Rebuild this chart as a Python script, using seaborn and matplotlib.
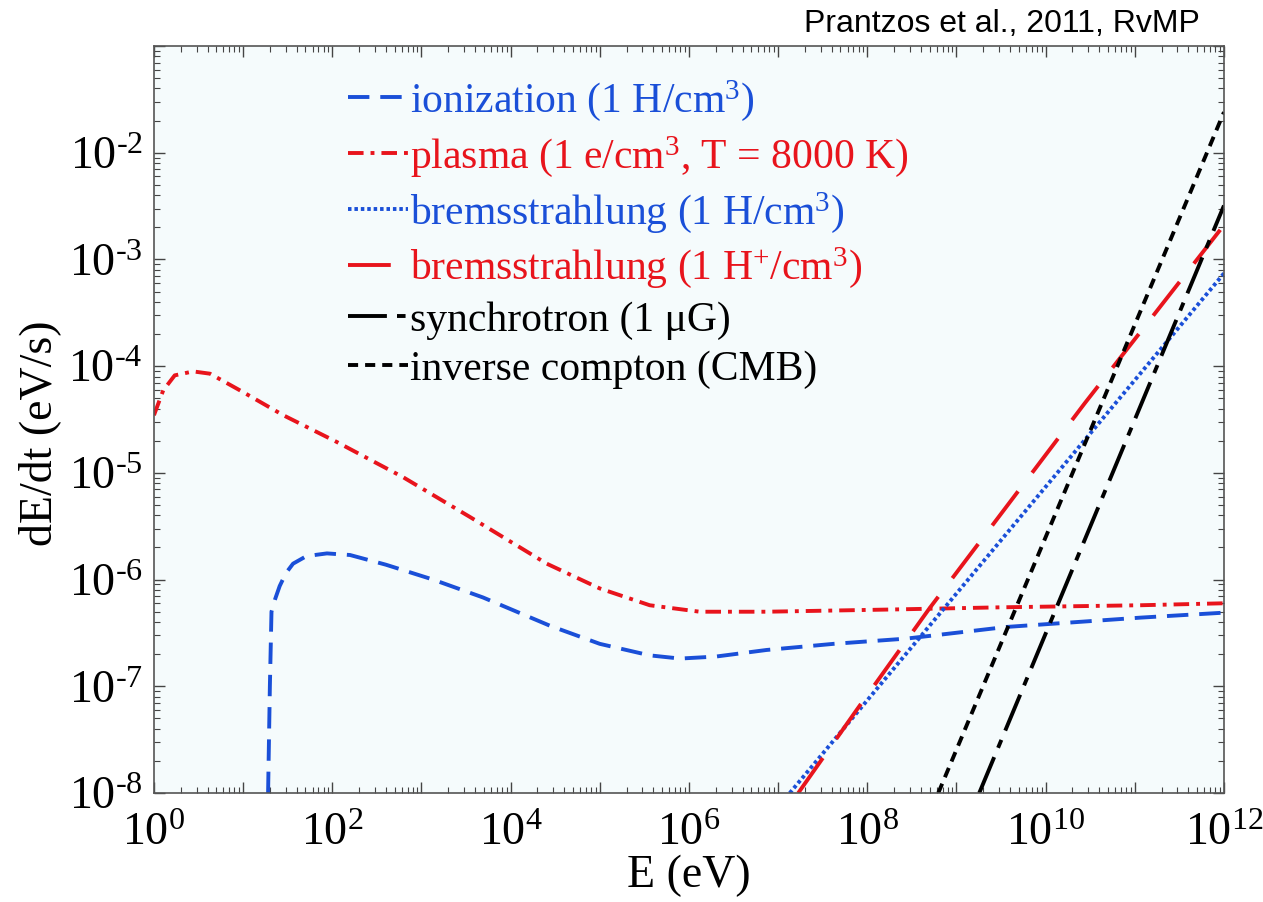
import matplotlib
matplotlib.use("Agg")
import math
import matplotlib.pyplot as plt
import matplotlib.ticker as mticker
import pandas as pd
import seaborn as sns

# Energy-loss rates dE/dt (eV/s) of cosmic-ray electrons as a function of energy E (eV)
ion_E = [19.05, 19.95, 20.8, 22.9, 25.7, 30.2, 36.3, 51.3, 87.1, 158, 398, 1.35e3, 4.9e3,
         2.75e4, 1e5, 3.63e5, 7.94e5, 2.0e6, 7.4e6, 4.17e7, 2.75e8, 3.63e9, 1.15e11, 1e12]
ion_rate = [1e-8, 1e-7, 5.0e-7, 6.6e-7, 8.7e-7, 1.15e-6, 1.41e-6, 1.66e-6, 1.76e-6, 1.70e-6,
            1.38e-6, 1.0e-6, 6.8e-7, 3.7e-7, 2.5e-7, 1.95e-7, 1.82e-7, 1.9e-7, 2.19e-7,
            2.5e-7, 2.8e-7, 3.6e-7, 4.4e-7, 4.9e-7]

plasma_E = [1, 1.27, 1.71, 2.75, 4.25, 10, 28.2, 112, 624, 3.5e3, 2.54e4, 1e5, 3.63e5,
            1.32e6, 7.4e6, 4.17e7, 1.95e8, 3.16e9, 1.15e11, 1e12]
plasma_rate = [3.47e-5, 5.93e-5, 8.2e-5, 8.93e-5, 8.5e-5, 5.71e-5, 3.47e-5, 1.95e-5, 9.1e-6,
               3.86e-6, 1.41e-6, 8.26e-7, 5.75e-7, 5.0e-7, 5.0e-7, 5.13e-7, 5.25e-7, 5.5e-7,
               5.75e-7, 6.0e-7]

bremsH_E = [1.35e7, 1e12]
bremsH_rate = [1e-8, 7.4e-4]

bremsHp_E = [1.68e7, 7.59e7, 5.0e8, 2.75e10, 1e12]
bremsHp_rate = [1e-8, 6.0e-8, 5.4e-7, 4.5e-5, 2.1e-3]

sync_E = [1.8e9, 1e12]
sync_rate = [1e-8, 3.2e-3]

ic_E = [6.25e8, 1e12]
ic_rate = [1e-8, 2.4e-2]

labels = [
    "ionization (1 H/cm$^{3}$)",
    "plasma (1 e/cm$^{3}$, T = 8000 K)",
    "bremsstrahlung (1 H/cm$^{3}$)",
    "bremsstrahlung (1 H$^{+}$/cm$^{3}$)",
    "synchrotron (1 \u03bcG)",
    "inverse compton (CMB)",
]

x_decades = list(range(0, 13))
y_decades = list(range(-8, 0))

BLUE = "#1a4fd8"
RED = "#e8141c"
BLACK = "#000000"

sns.set_theme(style="ticks")
plt.rcParams["font.family"] = ["Liberation Serif", "DejaVu Serif"]
plt.rcParams.update({
    "mathtext.fontset": "custom",
    "mathtext.rm": "Liberation Serif",
    "mathtext.it": "Liberation Serif:italic",
    "mathtext.bf": "Liberation Serif:bold",
    "axes.facecolor": "#f5fbfc",
    "axes.edgecolor": "#555555",
    "axes.linewidth": 1.2,
    "text.color": "black",
    "axes.labelcolor": "black",
    "xtick.labelcolor": "black",
    "ytick.labelcolor": "black",
})

fig = plt.figure(figsize=(12.63, 9.02), dpi=100)
ax = fig.add_axes([0.1219, 0.1208, 0.9691 - 0.1219, 0.949 - 0.1208])
ax.set_xscale("log")
ax.set_yscale("log")

series = [
    (ion_E, ion_rate, BLUE, (0, (5.5, 2.8))),
    (plasma_E, plasma_rate, RED, (0, (4, 1.8, 1, 1.8))),
    (bremsH_E, bremsH_rate, BLUE, (0, (0.9, 0.75))),
    (bremsHp_E, bremsHp_rate, RED, (0, (11, 6))),
    (sync_E, sync_rate, BLACK, (0, (10, 2.6, 2.2, 2.6))),
    (ic_E, ic_rate, BLACK, (0, (2.6, 1.8))),
]

for (xs, ys, col, ls), lab in zip(series, labels):
    df = pd.DataFrame({"E": xs, "rate": ys})
    sns.lineplot(data=df, x="E", y="rate", ax=ax, color=col, linewidth=2.8,
                 linestyle=ls, label=lab, sort=False, estimator=None)

ax.set_xlim(1, 1e12)
ax.set_ylim(1e-8, 1e-1)

ax.xaxis.set_major_locator(mticker.FixedLocator([10.0 ** k for k in x_decades]))
ax.yaxis.set_major_locator(mticker.FixedLocator([10.0 ** k for k in y_decades]))
ax.xaxis.set_minor_locator(mticker.LogLocator(base=10, subs=range(2, 10), numticks=200))
ax.yaxis.set_minor_locator(mticker.LogLocator(base=10, subs=range(2, 10), numticks=200))


def decade_label(step, skip_top=None):
    def fmt(v, pos):
        k = int(round(math.log10(v)))
        if k % step != 0 or (skip_top is not None and k >= skip_top):
            return ""
        return "10$^{\\text{%d}}$" % k
    return fmt


ax.xaxis.set_major_formatter(mticker.FuncFormatter(decade_label(2)))
ax.yaxis.set_major_formatter(mticker.FuncFormatter(decade_label(1, skip_top=-1)))
ax.xaxis.set_minor_formatter(mticker.NullFormatter())
ax.yaxis.set_minor_formatter(mticker.NullFormatter())

ax.tick_params(which="both", direction="in", top=True, right=True, colors="#444444",
               labelcolor="black", labelsize=33)
ax.tick_params(which="major", length=8, width=1.0)
ax.tick_params(axis="x", which="major", pad=14)
ax.tick_params(axis="y", which="major", pad=8)
ax.tick_params(which="minor", length=4, width=0.8)

ax.set_xlabel("E (eV)", fontsize=33, labelpad=0)
ax.set_ylabel("dE/dt (eV/s)", fontsize=33)
ax.yaxis.set_label_coords(-0.087, 0.482)

leg = ax.legend(loc="upper left", bbox_to_anchor=(348 / 1263, 1 - 78 / 902),
                bbox_transform=fig.transFigure, frameon=False, fontsize=30,
                handlelength=1.45, handletextpad=0.05, labelspacing=0.26,
                borderpad=0, borderaxespad=0, labelcolor="linecolor")

fig.text(1200 / 1263, 1 - 32 / 902, "Prantzos et al., 2011, RvMP", ha="right",
         va="baseline", fontsize=23, color="black",
         family=["Liberation Sans", "DejaVu Sans"])

fig.savefig("out.png", dpi=100, facecolor="white")
